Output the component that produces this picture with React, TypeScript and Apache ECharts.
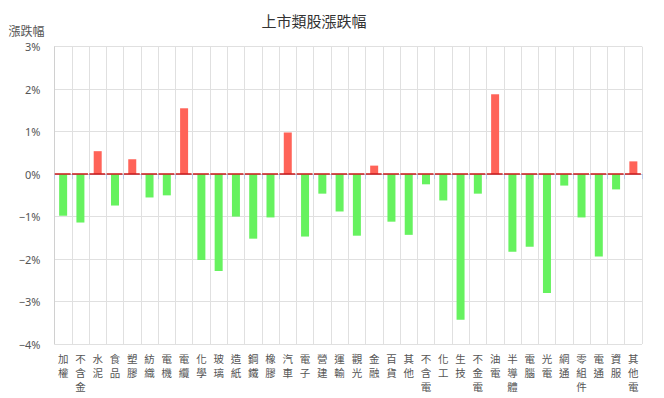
import React, { useEffect, useRef } from "react";
import * as echarts from "echarts";

const categories = [
  "加權", "不含金", "水泥", "食品", "塑膠", "紡織", "電機", "電纜", "化學", "玻璃",
  "造紙", "鋼鐵", "橡膠", "汽車", "電子", "營建", "運輸", "觀光", "金融", "百貨",
  "其他", "不含電", "化工", "生技", "不金電", "油電", "半導體", "電腦", "光電", "網通",
  "零組件", "電通", "資服", "其他電",
];

const changes = [
  -0.98, -1.14, 0.54, -0.74, 0.35, -0.55, -0.5, 1.55, -2.02, -2.28,
  -1.0, -1.52, -1.02, 0.98, -1.47, -0.46, -0.88, -1.45, 0.2, -1.12,
  -1.43, -0.24, -0.62, -3.43, -0.46, 1.88, -1.83, -1.71, -2.8, -0.27,
  -1.02, -1.94, -0.36, 0.3,
];

const upColor = "#ff6358";
const downColor = "#66f25f";

export default function App() {
  const ref = useRef<HTMLDivElement>(null);
  useEffect(() => {
    if (!ref.current) return;
    const chart = echarts.init(ref.current, null, { renderer: "svg" });
    const gridLeft = 54.5;
    const gridRight = 664 - 642;
    const bw = (642 - 54.5) / categories.length;
    chart.setOption({
      animation: false,
      title: {
        text: "上市類股漲跌幅",
        left: 309,
        textAlign: "center",
        top: 8,
        textStyle: { fontSize: 15, fontWeight: "normal", color: "#333", fontFamily: "Noto Sans CJK TC" },
      },
      grid: { left: gridLeft, right: gridRight, top: 46.7, bottom: 398 - 344 },
      xAxis: {
        type: "category",
        data: categories,
        axisLine: { show: true, lineStyle: { color: "#b7c9e6", width: 1 } },
        axisTick: { show: true, length: 5, lineStyle: { color: "#b7c9e6" } },
        splitLine: { show: true, lineStyle: { color: "#e0e0e0", width: 1 } },
        axisLabel: {
          interval: 0,
          margin: 7,
          color: "#555",
          fontSize: 10.5,
          lineHeight: 14,
          fontFamily: "Noto Sans CJK TC",
          formatter: (v: string) => v.split("").join("\n"),
        },
      },
      yAxis: {
        type: "value",
        name: "漲跌幅",
        nameLocation: "end",
        nameGap: 0,
        nameTextStyle: { color: "#555", fontSize: 12, fontFamily: "Noto Sans CJK TC", align: "left", padding: [0, 0, 10, -46] },
        min: -4,
        max: 3,
        interval: 1,
        axisLine: { show: true, lineStyle: { color: "#d0d0d0" } },
        axisTick: { show: false },
        splitLine: { show: true, lineStyle: { color: "#e0e0e0" } },
        axisLabel: {
          color: "#555",
          fontSize: 11,
          margin: 14,
          fontFamily: "Noto Sans",
          formatter: (v: number) => (v < 0 ? "\u2212" + Math.abs(v) : v) + "%",
        },
      },
      series: [
        {
          type: "bar",
          data: changes.map((v) => ({ value: v, itemStyle: { color: v >= 0 ? upColor : downColor } })),
          barWidth: 8,
          markLine: {
            silent: true,
            symbol: "none",
            label: { show: false },
            lineStyle: {
              color: "#cc1a1a",
              width: 1.6,
              type: [bw - 1.4, 1.4],
              dashOffset: bw - 0.7,
            },
            data: [{ yAxis: 0 }],
          },
        },
      ],
    });
    return () => chart.dispose();
  }, []);
  return <div ref={ref} style={{ width: 664, height: 398, position: "absolute", left: 0, top: 0 }} />;
}
